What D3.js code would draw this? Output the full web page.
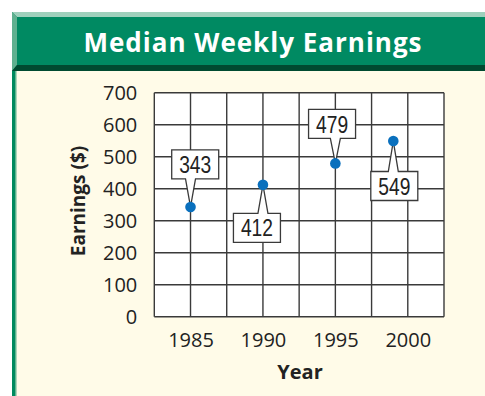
<!DOCTYPE html>
<html>
<head>
<meta charset="utf-8">
<script src="https://cdn.jsdelivr.net/npm/d3@7"></script>
<style>
  html, body { margin: 0; padding: 0; background: #ffffff; }
  svg { display: block; }
</style>
</head>
<body>
<svg id="chart" width="485" height="396"></svg>
<script>
// Median weekly earnings of full-time workers
const years = [1985, 1990, 1995, 1999];
const earnings = [343, 412, 479, 549];
const xTickLabels = [1985, 1990, 1995, 2000];
const yTickLabels = [0, 100, 200, 300, 400, 500, 600, 700];
const title = "Median Weekly Earnings";
const xTitle = "Year";
const yTitle = "Earnings ($)";

const svg = d3.select("#chart");
const W = 485, H = 396;

// Panel background and header band
svg.append("rect").attr("x", 0).attr("y", 0).attr("width", W).attr("height", H).attr("fill", "#ffffff");
svg.append("rect").attr("x", 12).attr("y", 71).attr("width", W - 12).attr("height", H - 71).attr("fill", "#fffbe8");
svg.append("rect").attr("x", 12).attr("y", 71).attr("width", 3).attr("height", H - 71).attr("fill", "#008a5e");
svg.append("rect").attr("x", 15).attr("y", 71).attr("width", 1.5).attr("height", H - 71).attr("fill", "#5fb48f");

svg.append("rect").attr("x", 12).attr("y", 12).attr("width", W - 12).attr("height", 59).attr("fill", "#008a62");
svg.append("path").attr("d", `M12,12 L${W},12 L${W},17 L17,17 Z`).attr("fill", "#9fd0bc");
svg.append("path").attr("d", `M12,12 L17,17 L17,65 L12,71 Z`).attr("fill", "#5fb08f");
svg.append("path").attr("d", `M12,71 L17,65 L${W},65 L${W},71 Z`).attr("fill", "#004a30");

svg.append("text")
  .attr("x", 253).attr("y", 51.5)
  .attr("text-anchor", "middle")
  .attr("font-family", "'Open Sans', 'Noto Sans', sans-serif")
  .attr("font-weight", 700)
  .attr("font-size", 26)
  .attr("letter-spacing", 1)
  .attr("fill", "#ffffff")
  .text(title);

// Scales
const x = d3.scaleLinear().domain([1982.5, 2002.5]).range([154.3, 444]);
const y = d3.scaleLinear().domain([0, 700]).range([316.7, 92.7]);

// Plot area
const plot = svg.append("g");
plot.append("rect")
  .attr("x", x(1982.5)).attr("y", y(700))
  .attr("width", x(2002.5) - x(1982.5)).attr("height", y(0) - y(700))
  .attr("fill", "#ffffff");

const vLines = d3.range(1982.5, 2002.5 + 0.01, 2.5);
plot.selectAll("line.v").data(vLines).join("line")
  .attr("class", "v")
  .attr("x1", d => x(d)).attr("x2", d => x(d))
  .attr("y1", y(0)).attr("y2", y(700))
  .attr("stroke", "#3a3a3a").attr("stroke-width", 1.4);
plot.selectAll("line.h").data(yTickLabels).join("line")
  .attr("class", "h")
  .attr("x1", x(1982.5)).attr("x2", x(2002.5))
  .attr("y1", d => y(d)).attr("y2", d => y(d))
  .attr("stroke", "#3a3a3a").attr("stroke-width", 1.4);

// Axes (labels only, grid drawn above)
const yAxis = d3.axisLeft(y).tickValues(yTickLabels).tickSize(0).tickPadding(17).tickFormat(d3.format("d"));
const gy = svg.append("g").attr("transform", `translate(${x(1982.5)},0)`).call(yAxis);
gy.select(".domain").remove();
gy.selectAll("text")
  .attr("font-family", "'Open Sans', 'Noto Sans', sans-serif")
  .attr("font-size", 20).attr("fill", "#222");

const xAxis = d3.axisBottom(x).tickValues(xTickLabels).tickSize(0).tickPadding(16).tickFormat(d3.format("d"));
const gx = svg.append("g").attr("transform", `translate(0,${y(0)})`).call(xAxis);
gx.select(".domain").remove();
gx.selectAll("text")
  .attr("font-family", "'Open Sans', 'Noto Sans', sans-serif")
  .attr("font-size", 20).attr("fill", "#222");

// Axis titles
svg.append("text")
  .attr("x", 300).attr("y", 379)
  .attr("text-anchor", "middle")
  .attr("font-family", "'Open Sans', 'Noto Sans', sans-serif")
  .attr("font-weight", 700).attr("font-size", 20).attr("fill", "#222")
  .text(xTitle);
svg.append("text")
  .attr("transform", `translate(85,201) rotate(-90)`)
  .attr("text-anchor", "middle")
  .attr("font-family", "'Open Sans', 'Noto Sans', sans-serif")
  .attr("font-weight", 700).attr("font-size", 19).attr("fill", "#222")
  .text(yTitle);

// Callout boxes: horizontal shift of the box, and gap between point and box edge
const calloutPlace = [
  { dx: 4.7, gap: -28, side: "above" },
  { dx: -6, gap: 28.5, side: "below" },
  { dx: -3.3, gap: -25, side: "above" },
  { dx: 1, gap: 30.5, side: "below" }
];
const boxW = 47, boxH = 29, half = 5;

const points = years.map((yr, i) => ({ year: yr, value: earnings[i], place: calloutPlace[i] }));

const callouts = svg.append("g").selectAll("g").data(points).join("g");
callouts.append("path")
  .attr("d", d => {
    const px = x(d.year), py = y(d.value);
    const cx = px + d.place.dx;
    const x0 = cx - boxW / 2, x1 = cx + boxW / 2;
    if (d.place.side === "above") {
      const yb = py + d.place.gap, yt = yb - boxH;
      return `M${x0},${yt} L${x1},${yt} L${x1},${yb} L${px + half},${yb} L${px},${py} L${px - half},${yb} L${x0},${yb} Z`;
    } else {
      const yt = py + d.place.gap, yb = yt + boxH;
      return `M${x0},${yt} L${px - half},${yt} L${px},${py} L${px + half},${yt} L${x1},${yt} L${x1},${yb} L${x0},${yb} Z`;
    }
  })
  .attr("fill", "#ffffff")
  .attr("stroke", "#3a3a3a")
  .attr("stroke-width", 1.3)
  .attr("stroke-linejoin", "miter");

// Condensed value labels: horizontally compressed around the box centre
callouts.append("text")
  .attr("transform", d => {
    const py = y(d.value);
    const top = d.place.side === "above" ? py + d.place.gap - boxH : py + d.place.gap;
    const tx = x(d.year) + d.place.dx;
    const ty = top + boxH / 2 + 8.6;
    return `translate(${tx},${ty}) scale(0.8,1)`;
  })
  .attr("text-anchor", "middle")
  .attr("font-family", "'Liberation Sans', Arial, sans-serif")
  .attr("font-size", 24)
  .attr("fill", "#222")
  .text(d => d.value);

// Data points
svg.append("g").selectAll("circle").data(points).join("circle")
  .attr("cx", d => x(d.year))
  .attr("cy", d => y(d.value))
  .attr("r", 5.3)
  .attr("fill", "#0a70bd");
</script>
</body>
</html>
